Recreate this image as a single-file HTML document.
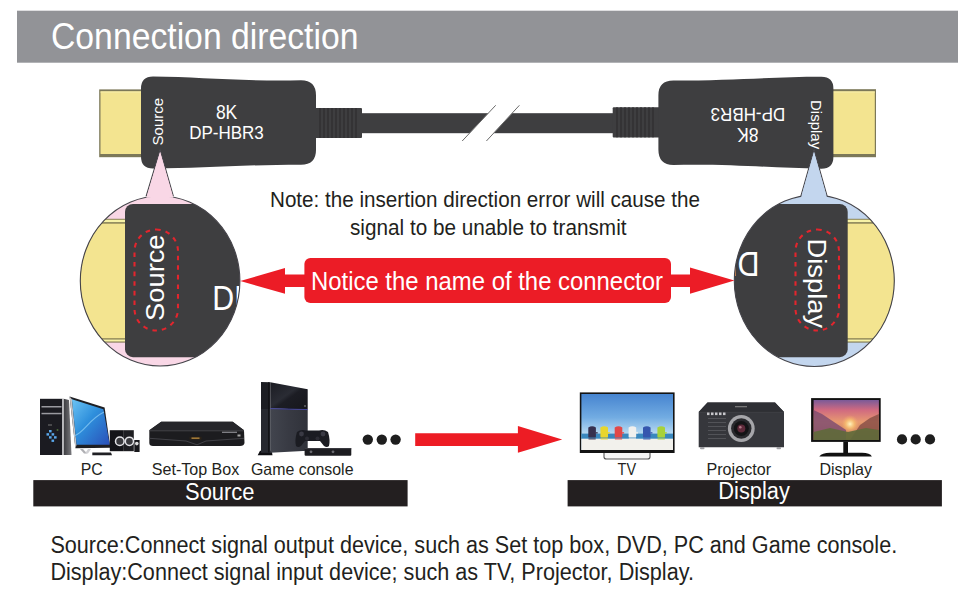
<!DOCTYPE html>
<html><head><meta charset="utf-8">
<style>
html,body{margin:0;padding:0;background:#fff;}
body{width:970px;height:600px;overflow:hidden;position:relative;font-family:"Liberation Sans",sans-serif;}
svg{position:absolute;left:0;top:0;display:block;}
svg text{font-family:"Liberation Sans",sans-serif;}
</style></head>
<body>
<svg width="970" height="600" viewBox="0 0 970 600">
<defs>
  <clipPath id="clipL"><ellipse cx="160.1" cy="281" rx="79.8" ry="85"/></clipPath>
  <clipPath id="clipR"><ellipse cx="814.3" cy="280.8" rx="80" ry="85.7"/></clipPath>
  <linearGradient id="pcScreen" x1="0" y1="0" x2="1" y2="1">
    <stop offset="0" stop-color="#6cc4f4"/><stop offset="0.45" stop-color="#2e8fdc"/><stop offset="1" stop-color="#2a4fb8"/>
  </linearGradient>
  <linearGradient id="pcSide" x1="0" y1="0" x2="1" y2="0">
    <stop offset="0" stop-color="#3a3a3e"/><stop offset="1" stop-color="#7a7a7e"/>
  </linearGradient>
  <linearGradient id="psTop" x1="0" y1="0" x2="1" y2="1">
    <stop offset="0" stop-color="#1a1b22"/><stop offset="0.45" stop-color="#2a2c34"/><stop offset="0.55" stop-color="#1c1d24"/><stop offset="1" stop-color="#16171c"/>
  </linearGradient>
  <linearGradient id="psBot" x1="0" y1="0" x2="1" y2="0">
    <stop offset="0" stop-color="#42454e"/><stop offset="0.5" stop-color="#383a43"/><stop offset="1" stop-color="#30323a"/>
  </linearGradient>
  <linearGradient id="tvSky" x1="0" y1="0" x2="0" y2="1">
    <stop offset="0" stop-color="#4684d0"/><stop offset="0.42" stop-color="#72ace2"/><stop offset="0.71" stop-color="#b8daf2"/><stop offset="1" stop-color="#b8daf2"/>
  </linearGradient>
  <linearGradient id="monSky" x1="0" y1="0" x2="0" y2="1">
    <stop offset="0" stop-color="#7a5a98"/><stop offset="0.25" stop-color="#d06a80"/><stop offset="0.55" stop-color="#e89a70"/><stop offset="1" stop-color="#c07a50"/>
  </linearGradient>
  <radialGradient id="monSun"><stop offset="0" stop-color="#fff4c0"/><stop offset="0.5" stop-color="#f8c070" stop-opacity="0.8"/><stop offset="1" stop-color="#f0a070" stop-opacity="0"/></radialGradient>
</defs>

<!-- header -->
<rect x="17" y="10.7" width="941" height="52" fill="#929397"/>
<text x="51" y="49" font-size="36" fill="#fff" textLength="307.5" lengthAdjust="spacingAndGlyphs">Connection direction</text>

<!-- cable -->
<rect x="355" y="113.2" width="265" height="20" fill="#3e3e40"/>
<!-- break -->
<polygon points="462.2,141 495.7,105.3 519.4,105.3 486.4,141" fill="#fff"/>
<line x1="462.2" y1="141" x2="495.7" y2="105.3" stroke="#6a6a6a" stroke-width="1"/>
<line x1="486.4" y1="141" x2="519.4" y2="105.3" stroke="#6a6a6a" stroke-width="1"/>

<!-- left connector -->
<g id="connL">
  <rect x="99.2" y="89.4" width="44" height="67.8" fill="#7c7858"/>
  <rect x="100.5" y="91.4" width="43" height="62.6" fill="#f3e490"/>
  <rect x="100.5" y="91.4" width="43" height="1.2" fill="#f7eda8"/>
  <rect x="314" y="108" width="48" height="30" rx="1" fill="#3e3e40"/>
  <g stroke="#2a292b" stroke-width="1">
    <line x1="320" y1="108" x2="320" y2="138"/><line x1="324" y1="108" x2="324" y2="138"/>
    <line x1="328" y1="108" x2="328" y2="138"/><line x1="332" y1="108" x2="332" y2="138"/>
    <line x1="336" y1="108" x2="336" y2="138"/><line x1="340" y1="108" x2="340" y2="138"/>
    <line x1="344" y1="108" x2="344" y2="138"/><line x1="348" y1="108" x2="348" y2="138"/>
    <line x1="352" y1="108" x2="352" y2="138"/><line x1="356" y1="108" x2="356" y2="138"/>
  </g>
  <path d="M153,76.5 C200,77 240,81.5 301,80.3 Q316,80.3 316,95.5 L316,150 Q316,164.7 301,164.7 C240,164.7 200,168.5 153,168.5 Q141,168.5 141,156.5 L141,88.5 Q141,76.5 153,76.5 Z" fill="#3e3e40"/>
  <text transform="translate(163.4,145.4) rotate(-90)" font-size="15" fill="#fff">Source</text>
  <g>
  <text x="215.9" y="118.9" font-size="19.8" fill="#fff" textLength="21.4" lengthAdjust="spacingAndGlyphs">8K</text>
  <text x="189.2" y="139.3" font-size="18.3" fill="#fff" textLength="74.6" lengthAdjust="spacingAndGlyphs">DP-HBR3</text>
  </g>
</g>

<!-- right connector -->
<g id="connR">
  <rect x="831" y="89.2" width="45" height="68" fill="#7c7858"/>
  <rect x="831" y="91.4" width="43.8" height="62.6" fill="#f3e490"/>
  <rect x="831" y="91.4" width="43.8" height="1.2" fill="#f7eda8"/>
  <rect x="612.7" y="107.2" width="48" height="30.3" rx="1" fill="#3e3e40"/>
  <g stroke="#2a292b" stroke-width="1">
    <line x1="617" y1="107" x2="617" y2="137.5"/><line x1="621" y1="107" x2="621" y2="137.5"/>
    <line x1="625" y1="107" x2="625" y2="137.5"/><line x1="629" y1="107" x2="629" y2="137.5"/>
    <line x1="633" y1="107" x2="633" y2="137.5"/><line x1="637" y1="107" x2="637" y2="137.5"/>
    <line x1="641" y1="107" x2="641" y2="137.5"/><line x1="645" y1="107" x2="645" y2="137.5"/>
    <line x1="649" y1="107" x2="649" y2="137.5"/><line x1="653" y1="107" x2="653" y2="137.5"/>
  </g>
  <path d="M153,76.5 C200,77 240,81.5 301,80.3 Q316,80.3 316,95.5 L316,150 Q316,164.7 301,164.7 C240,164.7 200,168.5 153,168.5 Q141,168.5 141,156.5 L141,88.5 Q141,76.5 153,76.5 Z" fill="#3e3e40" transform="rotate(180 487.2 122.6)"/>
  <text transform="translate(811,100) rotate(90)" font-size="15" fill="#fff">Display</text>
  <g transform="rotate(180 487.2 123.5)">
  <text x="215.9" y="118.9" font-size="19.8" fill="#fff" textLength="21.4" lengthAdjust="spacingAndGlyphs">8K</text>
  <text x="189.2" y="139.3" font-size="18.3" fill="#fff" textLength="74.6" lengthAdjust="spacingAndGlyphs">DP-HBR3</text>
  </g>
</g>

<!-- left callout -->
<path d="M160.1,149.7 L173.2,195.8 L146.3,195.8 Z" fill="#f9d7e6" stroke="#45444a" stroke-width="1.1" stroke-linejoin="miter"/>
<g clip-path="url(#clipL)">
  <rect x="70" y="190" width="180" height="180" fill="#f9d7e6"/>
  <rect x="70" y="218.8" width="60" height="123.8" fill="#7c7650"/>
  <rect x="70" y="219.7" width="60" height="2.5" fill="#f7f2a6"/>
  <rect x="70" y="223.6" width="60" height="114.7" fill="#f3e490"/>
  <rect x="70" y="339.5" width="60" height="2" fill="#f7f2a6"/>
  <rect x="125" y="204" width="140" height="153.2" rx="8" fill="#3e3e40"/>
  <rect x="134.5" y="229.5" width="43.5" height="101" rx="21.7" fill="none" stroke="#e2252d" stroke-width="2.1" stroke-dasharray="4.6 5"/>
  <text transform="translate(164,320.9) rotate(-90) scale(1.05,1)" font-size="26" fill="#fff">Source</text>
  <text transform="translate(212.2,309.6) scale(0.95,1.07)" font-size="32" fill="#fff">DP</text>
</g>
<ellipse cx="160.1" cy="281" rx="79.8" ry="85" fill="none" stroke="#45444a" stroke-width="1.1"/>
<path d="M146.3,197.8 L160.1,152 L173.4,197.8 Z" fill="#f9d7e6"/>

<!-- right callout -->
<path d="M814,149.7 L827,195.6 L801,195.6 Z" fill="#c3d6ee" stroke="#45444a" stroke-width="1.1"/>
<g clip-path="url(#clipR)">
  <rect x="725" y="190" width="180" height="180" fill="#c3d6ee"/>
  <rect x="845" y="218.8" width="60" height="123.8" fill="#7c7650"/>
  <rect x="845" y="219.7" width="60" height="2.5" fill="#f7f2a6"/>
  <rect x="845" y="223.6" width="60" height="114.7" fill="#f3e490"/>
  <rect x="845" y="339.5" width="60" height="2" fill="#f7f2a6"/>
  <rect x="700" y="204" width="147.7" height="153.2" rx="8" fill="#3e3e40"/>
  <rect x="795.5" y="229.5" width="43.5" height="101" rx="21.7" fill="none" stroke="#e2252d" stroke-width="2.1" stroke-dasharray="4.6 5"/>
  <text transform="translate(808.4,238.6) rotate(90) scale(1.05,1)" font-size="26" fill="#fff">Display</text>
  <text transform="translate(759.6,251.7) rotate(180) scale(0.95,1.07)" font-size="32" fill="#fff">DP</text>
</g>
<ellipse cx="814.3" cy="280.8" rx="80" ry="85.7" fill="none" stroke="#45444a" stroke-width="1.1"/>
<path d="M801,197.6 L814,152 L827,197.6 Z" fill="#c3d6ee"/>

<!-- note -->
<text x="270" y="207.1" font-size="21.5" fill="#231f20" textLength="430" lengthAdjust="spacingAndGlyphs">Note: the insertion direction error will cause the</text>
<text x="350" y="234.5" font-size="21.5" fill="#231f20" textLength="276.5" lengthAdjust="spacingAndGlyphs">signal to be unable to transmit</text>

<!-- red banner -->
<polygon points="240.3,281 285,267.9 285,274.4 306,274.4 306,286.9 285,286.9 285,293.8" fill="#ec1c26"/>
<polygon points="734.4,280.6 690,267.5 690,274.4 669,274.4 669,286.9 690,286.9 690,293.8" fill="#ec1c26"/>
<rect x="304.4" y="258.1" width="366.6" height="44.9" rx="6" fill="#ec1c26"/>
<text x="311" y="290.2" font-size="26.7" fill="#fff" textLength="352" lengthAdjust="spacingAndGlyphs">Notice the name of the connector</text>

<!-- PC -->
<g id="pc">
  <polygon points="63.5,398.8 69,400 71.5,455 63.5,455" fill="url(#pcSide)"/>
  <rect x="40" y="398.8" width="22.5" height="56.2" fill="#1b1b21"/>
  <rect x="62" y="398.8" width="1.8" height="56.2" fill="#b8b8bc"/>
  <rect x="41.5" y="406" width="20" height="1.5" fill="#9a9aa0"/>
  <rect x="41.5" y="412.8" width="20" height="1.5" fill="#9a9aa0"/>
  <rect x="48" y="424.5" width="4" height="1" fill="#777"/>
  <g fill="#5aa8ec"><rect x="49" y="430" width="2.6" height="2.4"/><rect x="46.5" y="433.2" width="2.6" height="2.4"/><rect x="51.6" y="433.2" width="2.6" height="2.4"/><rect x="49" y="436.2" width="2.6" height="2.4"/><rect x="54" y="436.2" width="2.6" height="2.4"/><rect x="51.5" y="439.5" width="2.6" height="2.4"/></g>
  <circle cx="57.5" cy="430" r="1" fill="#4a6a3a"/>
  <polygon points="69.6,396.4 104.6,407.5 110.4,447.7 75.4,448.3" fill="#1e1e22"/>
  <polygon points="69.6,396.4 71.9,399.3 76.6,444.8 75.4,448.3" fill="#c4c4c8"/>
  <polygon points="71.9,399.3 103.4,409.2 109.8,444.8 76.6,444.8" fill="url(#pcScreen)"/>
  <path d="M74,436 C85,432 88,420 104,412" fill="none" stroke="#8fd0f6" stroke-width="1.2" opacity="0.7"/>
  <polygon points="80,449 83,449 87,453.5 84,453.5" fill="#b0b0b4"/>
  <polygon points="88,449 91,449 88,453.5 85,453.5" fill="#d0d0d4"/>
  <polygon points="92.3,452.4 111,452.4 112,455.3 92.3,455.3" fill="#202024"/>
  <rect x="109.8" y="430.2" width="14" height="21" fill="#141418"/>
  <rect x="123.8" y="430.2" width="10" height="21" fill="#1e1e22"/>
  <circle cx="119.8" cy="441.3" r="4.3" fill="#3a3a3e" stroke="#e4e4e8" stroke-width="1.5"/>
  <circle cx="129.4" cy="441.3" r="4.1" fill="#3a3a3e" stroke="#e4e4e8" stroke-width="1.5"/>
  <rect x="134.3" y="440" width="5.3" height="12" fill="#18181c"/>
  <circle cx="136.8" cy="443.6" r="1.8" fill="#e0e0e0"/>
</g>

<!-- set-top box -->
<g id="stb">
  <path d="M161.2,421.7 L232.7,421.7 L244,430.2 L244.5,443 Q244,445.9 240,445.9 L153,445.9 Q149.3,445.9 149.3,443 L149.3,430.2 Z" fill="#1c1c1f"/>
  <path d="M161.2,421.7 L232.7,421.7 L244,430.2 L149.3,430.2 Z" fill="#26262a"/>
  <line x1="149.5" y1="430.8" x2="244" y2="430.8" stroke="#55555a" stroke-width="0.7"/>
  <path d="M149.5,438.3 L186,441 L197,444.8 L206,441 L244,438.3" fill="none" stroke="#4a4a50" stroke-width="0.8"/>
  <rect x="189.5" y="436.8" width="12" height="3" fill="#2a2218"/>
  <rect x="191.5" y="437.4" width="8" height="1.6" fill="#a07838"/>
  <rect x="222" y="431.7" width="15" height="1.2" fill="#8a8a90"/>
  <rect x="237.5" y="434.5" width="3" height="2" fill="#aaa"/>
</g>

<!-- game console -->
<g id="ps4">
  <polygon points="257.7,455.3 260,450.7 271.7,450.7 272.5,455.3" fill="#0e0e12"/>
  <polygon points="261,382 270.3,382.3 270.3,452.7 261,452.7" fill="#1c1d23"/>
  <polygon points="261,409 270.3,409 270.3,452.7 261,452.7" fill="#272930"/>
  <line x1="268.8" y1="382.3" x2="268.8" y2="452.5" stroke="#121216" stroke-width="1.4"/>
  <polygon points="270.3,382.3 307.7,389.3 307.7,409.4 270.3,408.4" fill="url(#psTop)"/>
  <polygon points="270.3,408.4 307.7,409.4 307.7,450.8 270.3,452.7" fill="url(#psBot)"/>
  <line x1="270.3" y1="408.6" x2="307.7" y2="409.6" stroke="#3c3ea8" stroke-width="0.8"/>
  <circle cx="305" cy="406" r="0.8" fill="#999"/>
  <path d="M297,432 Q301,429 306,430.5 L319,430.5 Q324,429 328,432 Q330.5,440 329,446 Q327,448 324,446 L320,441 L305,441 L301,446 Q298,448 296,446 Q294.5,440 297,432 Z" fill="#1b1c22"/>
  <circle cx="301.5" cy="434" r="2.4" fill="#3a3a44"/><circle cx="323" cy="434" r="2.4" fill="#3a3a44"/>
  <circle cx="307" cy="438.5" r="2" fill="#2c2c34"/><circle cx="317.5" cy="438.5" r="2" fill="#2c2c34"/>
  <rect x="304.6" y="448" width="46.7" height="7.8" rx="1" fill="#1c1c20"/>
  <rect x="304.6" y="448" width="46.7" height="1.2" fill="#3a3a40"/>
  <circle cx="311" cy="451.8" r="1.4" fill="#6a6a70"/><circle cx="333" cy="451.8" r="1.4" fill="#6a6a70"/>
</g>

<!-- dots left -->
<circle cx="367.8" cy="439.6" r="5.2" fill="#1e1e1e"/>
<circle cx="381.8" cy="439.6" r="5.2" fill="#1e1e1e"/>
<circle cx="395.6" cy="439.6" r="5.2" fill="#1e1e1e"/>

<!-- big red arrow -->
<polygon points="415.2,433.2 517.9,433.2 517.9,426 562.2,439.4 517.9,452.7 517.9,446 415.2,446" fill="#ed1c24"/>

<!-- TV -->
<g id="tv">
  <rect x="579.8" y="392.4" width="94.8" height="60.6" fill="#141414"/>
  <rect x="581.4" y="394" width="91.6" height="56" fill="url(#tvSky)"/>
  <rect x="581.4" y="433.6" width="91.6" height="5.2" fill="#3a88be"/>
  <rect x="581.4" y="438.8" width="91.6" height="11.2" fill="#f2f1ec"/>
  <g>
    <path d="M588.3,437 L588.3,427.5 Q592.1,425.2 595.9,427.5 L595.9,437 Z" fill="#36304e"/>
    <rect x="595.7" y="432" width="2" height="1.6" fill="#36304e" opacity="0.8"/>
    <rect x="588.5" y="437" width="7.2" height="2.8" fill="#36304e" opacity="0.55"/>
    <path d="M600.4,437 L600.4,427.5 Q604.2,425.2 608.0,427.5 L608.0,437 Z" fill="#e8d62c"/>
    <rect x="607.8" y="432" width="2" height="1.6" fill="#e8d62c" opacity="0.8"/>
    <rect x="600.6" y="437" width="7.2" height="2.8" fill="#e8d62c" opacity="0.55"/>
    <path d="M614.7,437 L614.7,427.5 Q618.5,425.2 622.3,427.5 L622.3,437 Z" fill="#e24848"/>
    <rect x="622.1" y="432" width="2" height="1.6" fill="#e24848" opacity="0.8"/>
    <rect x="614.9" y="437" width="7.2" height="2.8" fill="#e24848" opacity="0.55"/>
    <path d="M628.6,437 L628.6,427.5 Q632.4,425.2 636.2,427.5 L636.2,437 Z" fill="#f0f0ee"/>
    <rect x="636.0" y="432" width="2" height="1.6" fill="#f0f0ee" opacity="0.8"/>
    <rect x="628.8" y="437" width="7.2" height="2.8" fill="#f0f0ee" opacity="0.55"/>
    <path d="M643.0,437 L643.0,427.5 Q646.8,425.2 650.6,427.5 L650.6,437 Z" fill="#3656ae"/>
    <rect x="650.4" y="432" width="2" height="1.6" fill="#3656ae" opacity="0.8"/>
    <rect x="643.2" y="437" width="7.2" height="2.8" fill="#3656ae" opacity="0.55"/>
    <path d="M657.4,437 L657.4,427.5 Q661.2,425.2 665.0,427.5 L665.0,437 Z" fill="#a8d23a"/>
    <rect x="664.8" y="432" width="2" height="1.6" fill="#a8d23a" opacity="0.8"/>
    <rect x="657.6" y="437" width="7.2" height="2.8" fill="#a8d23a" opacity="0.55"/>
  </g>
  <path d="M604,453 L604,457 Q604,459 606.5,459 L647.5,459 Q650,459 650,457 L650,453" fill="#f4f4f4" stroke="#555" stroke-width="1.1"/>
</g>

<!-- projector -->
<g id="proj">
  <path d="M707.5,402.6 L775,402.6 L784,412 L784,447.2 L698.7,447.2 L698.7,412 Z" fill="#36373c"/>
  <path d="M707.5,402.6 L775,402.6 L784,412 L698.7,412 Z" fill="#2e2f34"/>
  <line x1="699" y1="412.3" x2="784" y2="412.3" stroke="#444449" stroke-width="0.6"/>
  <rect x="700" y="447" width="4.5" height="2.3" rx="1" fill="#a0a0a4"/>
  <rect x="776.5" y="447" width="4.5" height="2.3" rx="1" fill="#a0a0a4"/>
  <circle cx="741.3" cy="428.5" r="13.4" fill="#a6a6aa"/>
  <circle cx="741.3" cy="428.5" r="10.2" fill="#2a2a2e"/>
  <circle cx="741.3" cy="428.5" r="7.5" fill="#141416"/>
  <circle cx="741.3" cy="428.5" r="4" fill="#5e2a3a"/>
  <circle cx="740.3" cy="427.3" r="1.3" fill="#b07888"/>
  <g fill="#c8c8cc"><rect x="707" y="412.5" width="2.5" height="2.6"/><rect x="711" y="412.5" width="2.5" height="2.6"/><rect x="715" y="412.5" width="2.5" height="2.6"/><rect x="719" y="412.5" width="2.5" height="2.6"/><rect x="723" y="412.5" width="2.5" height="2.6"/></g>
  <g fill="#5a5a60"><rect x="708" y="418" width="18" height="0.8"/><rect x="708" y="422" width="18" height="0.8"/><rect x="708" y="426" width="18" height="0.8"/><rect x="708" y="430" width="18" height="0.8"/><rect x="708" y="434" width="18" height="0.8"/><rect x="708" y="438" width="18" height="0.8"/></g>
  <rect x="735" y="406" width="12" height="1.3" fill="#777"/>
</g>

<!-- monitor -->
<g id="mon">
  <rect x="811.1" y="398.1" width="69.6" height="43.8" fill="#111"/>
  <rect x="813.6" y="400" width="65.3" height="39.9" fill="url(#monSky)"/>
  <circle cx="850" cy="424" r="9" fill="url(#monSun)"/>
  <polygon points="813.6,410 822,414 834,422 846,430 846,439.9 813.6,439.9" fill="#7a4a70" opacity="0.8"/>
  <polygon points="860,425 870,418 878.9,414 878.9,439.9 850,439.9" fill="#8a5048" opacity="0.85"/>
  <polygon points="813.6,432 830,428 848,432 866,428 878.9,430 878.9,439.9 813.6,439.9" fill="#5e6a3a" opacity="0.9"/>
  <rect x="843.3" y="441.9" width="4.7" height="11.9" fill="#111"/>
  <path d="M819.3,456.4 Q822,452.8 830,452.8 L862,452.8 Q870,452.8 871.9,456.4 Z" fill="#111"/>
</g>

<!-- dots right -->
<circle cx="902" cy="439.4" r="5.1" fill="#1e1e1e"/>
<circle cx="915.7" cy="439.4" r="5.1" fill="#1e1e1e"/>
<circle cx="930" cy="439.4" r="5.1" fill="#1e1e1e"/>

<!-- device labels -->
<g font-size="16.5" fill="#231f20">
  <text x="80.8" y="474.5" textLength="22" lengthAdjust="spacingAndGlyphs">PC</text>
  <text x="151.8" y="474.5" textLength="87.5" lengthAdjust="spacingAndGlyphs">Set-Top Box</text>
  <text x="251" y="474.5" textLength="102.5" lengthAdjust="spacingAndGlyphs">Game console</text>
  <text x="617.6" y="474.5" textLength="18.5" lengthAdjust="spacingAndGlyphs">TV</text>
  <text x="706.5" y="474.5" textLength="64.5" lengthAdjust="spacingAndGlyphs">Projector</text>
  <text x="819.5" y="474.5" textLength="52.5" lengthAdjust="spacingAndGlyphs">Display</text>
</g>

<!-- black bars -->
<rect x="33.3" y="480.1" width="374.3" height="26.3" fill="#231f20"/>
<rect x="567.6" y="480.1" width="374.3" height="26.3" fill="#231f20"/>
<text x="185" y="499.6" font-size="23" fill="#fff" textLength="69.5" lengthAdjust="spacingAndGlyphs">Source</text>
<text x="718.3" y="499.4" font-size="23" fill="#fff" textLength="71.5" lengthAdjust="spacingAndGlyphs">Display</text>

<!-- bottom text -->
<text x="50.4" y="552.6" font-size="23" fill="#231f20" textLength="846.8" lengthAdjust="spacingAndGlyphs">Source:Connect signal output device, such as Set top box, DVD, PC and Game console.</text>
<text x="50.4" y="580.2" font-size="23" fill="#231f20" textLength="643.5" lengthAdjust="spacingAndGlyphs">Display:Connect signal input device; such as TV, Projector, Display.</text>
</svg>
</body></html>
